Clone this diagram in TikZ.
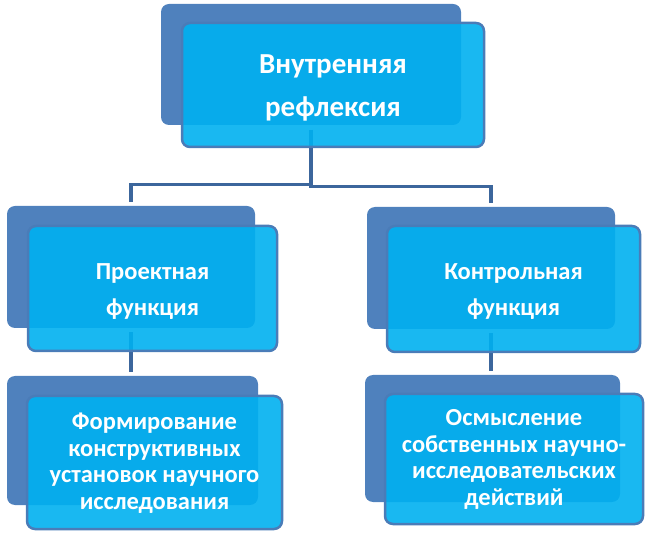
\documentclass[tikz,border=0pt]{standalone}
\usepackage{fontspec}
\setmainfont{Carlito}
\definecolor{backc}{RGB}{79,129,189}
\definecolor{frontc}{RGB}{0,176,240}
\definecolor{edgec}{RGB}{74,124,184}
\definecolor{connc}{RGB}{60,102,156}
\begin{document}
\begin{tikzpicture}[x=1pt,y=-1pt,
  backbox/.style={draw=none,fill=backc,rounded corners=8pt,inner sep=0pt,outer sep=0pt},
  frontbox/.style={draw=edgec,line width=2.5pt,fill=frontc,fill opacity=0.9,text opacity=1,
    rounded corners=8pt,inner sep=0pt,outer sep=0pt,text=white,align=center,font=\bfseries},
  bigtext/.style={font=\fontsize{29}{43}\selectfont\bfseries},
  midtext/.style={font=\fontsize{24.5}{36}\selectfont\bfseries},
  lowtext/.style={font=\fontsize{24.5}{26.5}\selectfont\bfseries},
  conn/.style={draw=connc,line width=3.5pt,shorten <=4pt,shorten >=4pt}]
\useasboundingbox (0,0) rectangle (648,534);
% back boxes
\node[backbox,minimum width=300pt,minimum height=121pt] (tB) at (311,64.5) {};
\node[backbox,minimum width=248pt,minimum height=122pt] (lB) at (131,267) {};
\node[backbox,minimum width=248pt,minimum height=122pt] (rB) at (491,268) {};
\node[backbox,minimum width=251pt,minimum height=129pt] (llB) at (132.5,440.5) {};
\node[backbox,minimum width=255pt,minimum height=127pt] (rrB) at (492.5,438.5) {};
% connectors
\draw[conn,shorten <=5pt] (tB.south) -- ++(0,59.5) -| (lB.north);
\draw[conn,shorten <=5pt] (tB.south) -- ++(0,61.5) -| (rB.north);
\draw[conn] (lB.south) -- (lB.south |- llB.north);
\draw[conn] (rB.south) -- (rB.south |- rrB.north);
% front boxes
\node[frontbox,minimum width=302pt,minimum height=124pt] (tF) at (333,85) {};
\node[bigtext,text=white,align=center,inner sep=0pt] (tT) at (333,87.5) {Внутренняя\\рефлексия};
\node[frontbox,minimum width=249pt,minimum height=125pt] (lF) at (152.5,288.5) {};
\node[midtext,text=white,align=center,inner sep=0pt] (lT) at (152.5,291.5) {Проектная\\функция};
\node[frontbox,minimum width=253pt,minimum height=126pt] (rF) at (513.5,289) {};
\node[midtext,text=white,align=center,inner sep=0pt] (rT) at (513.5,292) {Контрольная\\функция};
\node[frontbox,minimum width=255pt,minimum height=133pt] (llF) at (154.5,462.5) {};
\node[lowtext,text=white,align=center,inner sep=0pt] (llT) at (154.5,463) {Формирование\\конструктивных\\установок научного\\исследования};
\node[frontbox,minimum width=258pt,minimum height=130pt] (rrF) at (514,459) {};
\node[lowtext,text=white,align=center,inner sep=0pt] (rrT) at (514,459.5) {Осмысление\\собственных научно-\\исследовательских\\действий};
\end{tikzpicture}
\end{document}
